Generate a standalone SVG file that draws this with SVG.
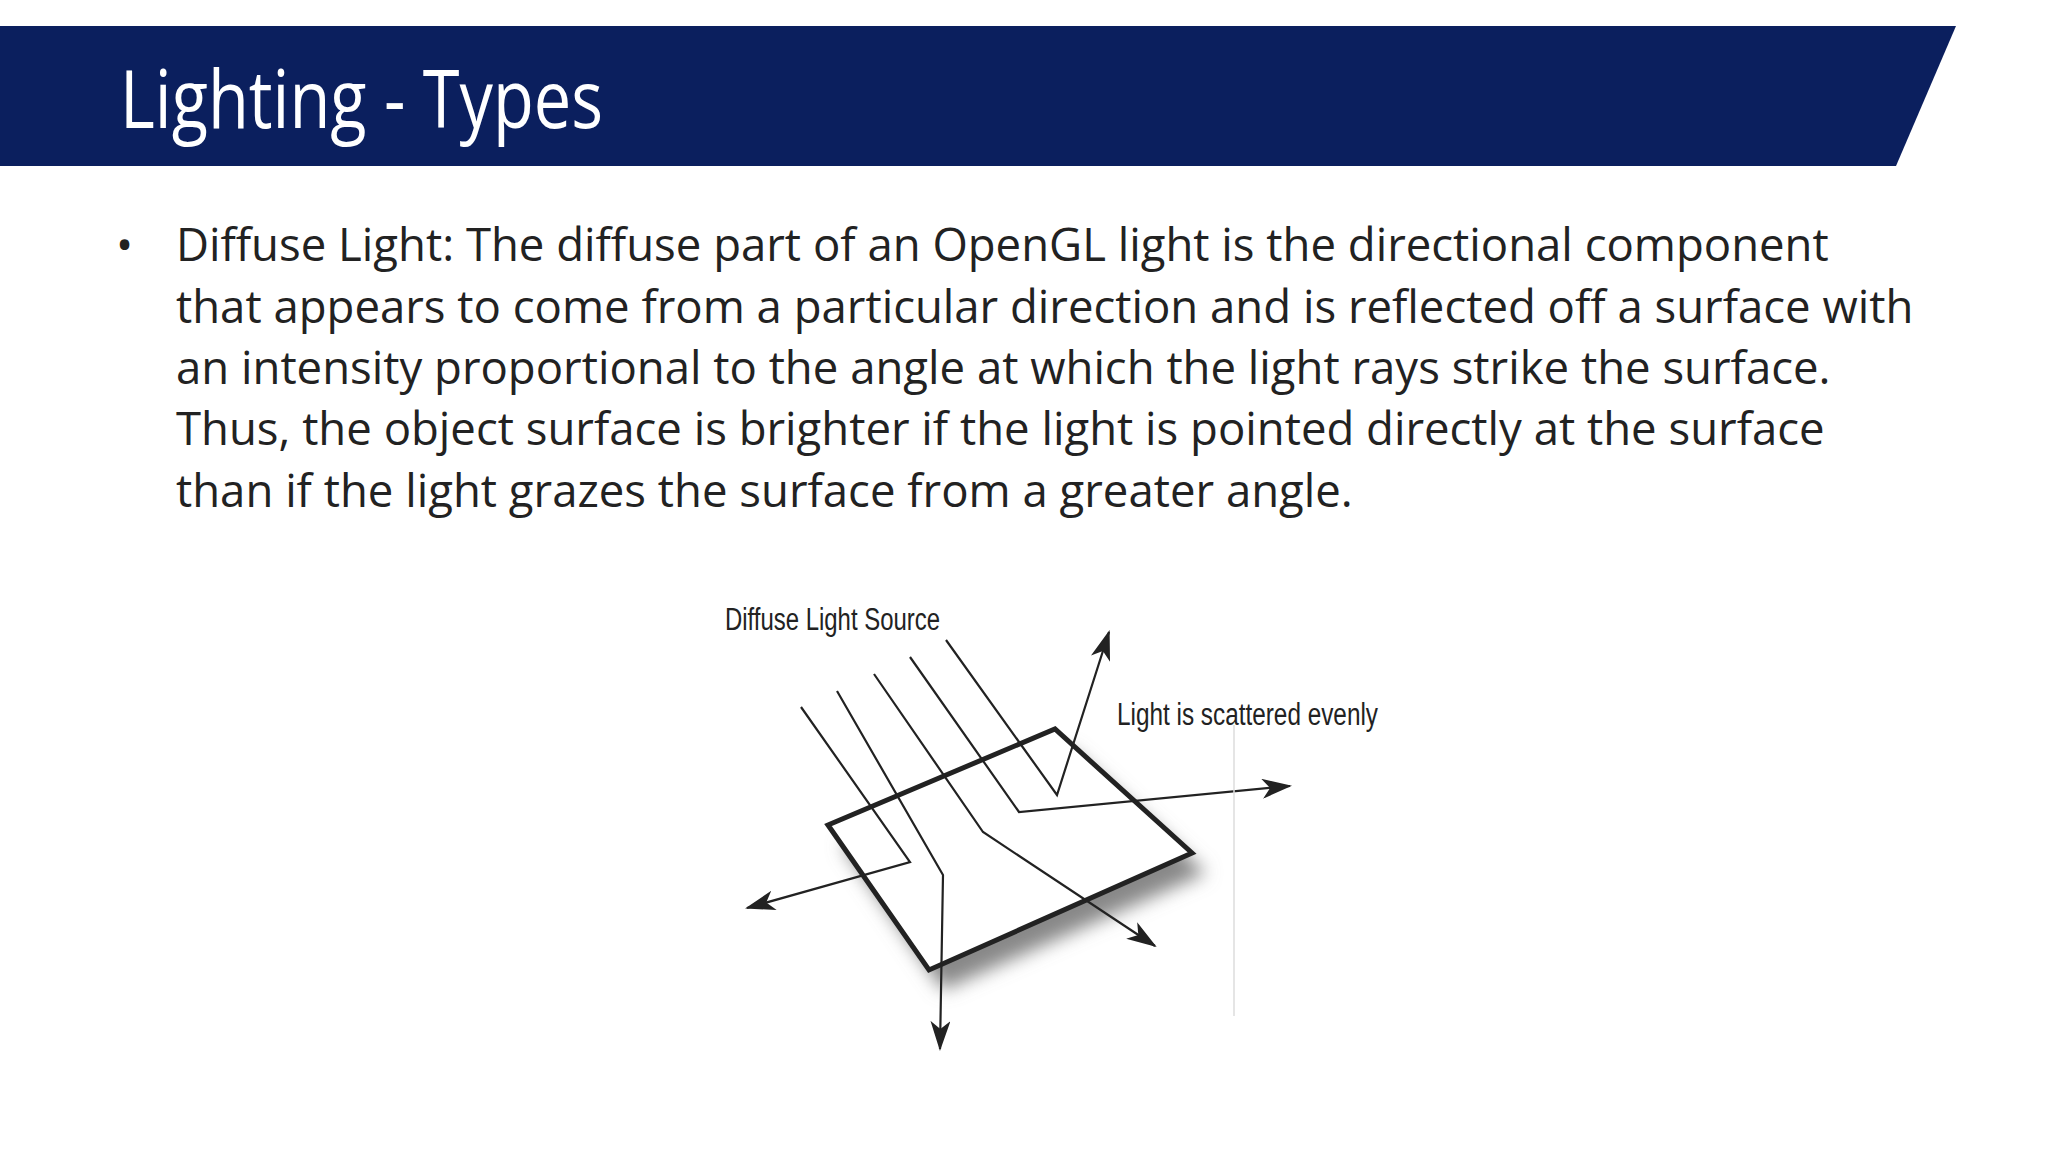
<svg xmlns="http://www.w3.org/2000/svg" width="2048" height="1152" viewBox="0 0 2048 1152">
<defs>
<style>
.body{font-family:"Open Sans","Noto Sans",sans-serif;font-size:45.5px;fill:#222}
.lbl{font-family:"Liberation Sans",sans-serif;font-size:31px;fill:#222}
.ray{fill:none;stroke:#222;stroke-width:2.2}
</style>
<marker id="ah" viewBox="0 0 30 20" refX="28" refY="10" markerWidth="30" markerHeight="20" markerUnits="userSpaceOnUse" orient="auto"><path d="M0,0 L30,10 L0,20 L8,10 Z" fill="#222"/></marker>
<filter id="blur" x="-20%" y="-20%" width="140%" height="140%"><feGaussianBlur stdDeviation="9"/></filter>
</defs>
<rect width="2048" height="1152" fill="#fff"/>
<g id="banner">
<polygon points="0,26 1956,26 1896,166 0,166" fill="#0b1f5e"/>
<text x="120" y="128" font-family="Open Sans,Noto Sans,sans-serif" font-size="80" fill="#fff" textLength="483" lengthAdjust="spacingAndGlyphs">Lighting - Types</text>
</g>
<g id="bodytext" class="body">
<text x="116" y="261">•</text>
<text x="176" y="261">Diffuse Light: The diffuse part of an OpenGL light is the directional component</text>
<text x="176" y="323">that appears to come from a particular direction and is reflected off a surface with</text>
<text x="176" y="384">an intensity proportional to the angle at which the light rays strike the surface.</text>
<text x="176" y="445">Thus, the object surface is brighter if the light is pointed directly at the surface</text>
<text x="176" y="507">than if the light grazes the surface from a greater angle.</text>
</g>
<g id="surface">
<polygon points="842,845 1069,749 1206,873 943,990" fill="#888" filter="url(#blur)"/>
<polygon points="828,825 1055,729 1192,853 929,970" fill="#fff" stroke="#222" stroke-width="5"/>
</g>
<g id="connectors">
<polyline class="ray" points="801,707 910,862 747,908" marker-end="url(#ah)"/>
<polyline class="ray" points="837,691 943,875 940,1049" marker-end="url(#ah)"/>
<polyline class="ray" points="874,674 983,832 1155,946" marker-end="url(#ah)"/>
<polyline class="ray" points="910,657 1019,812 1290,786" marker-end="url(#ah)"/>
<polyline class="ray" points="946,640 1057,795 1109,632" marker-end="url(#ah)"/>
<line x1="1234" y1="725" x2="1234" y2="1016" stroke="#ddd" stroke-width="1.5"/>
</g>
<g id="labels" class="lbl">
<text x="725" y="630" textLength="215" lengthAdjust="spacingAndGlyphs">Diffuse Light Source</text>
<text x="1117" y="725" textLength="261" lengthAdjust="spacingAndGlyphs">Light is scattered evenly</text>
</g>
</svg>
